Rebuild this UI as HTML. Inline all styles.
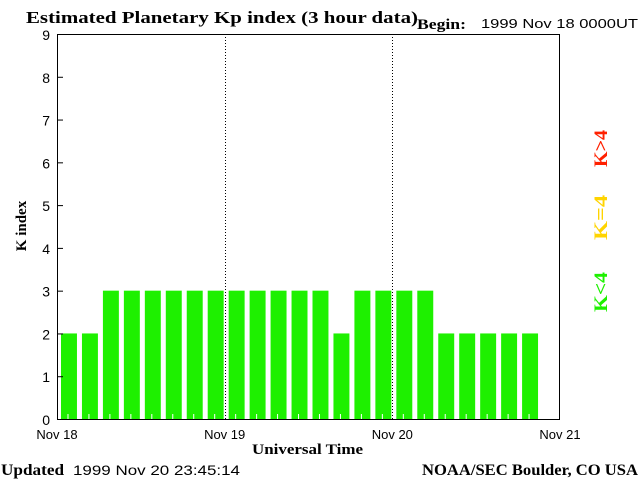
<!DOCTYPE html>
<html><head><meta charset="utf-8"><style>
html,body{margin:0;padding:0;background:#fff;width:640px;height:480px;overflow:hidden}
svg{display:block}
.serif{font-family:"Liberation Serif",serif;font-weight:bold}
.sans{font-family:"Liberation Sans",sans-serif}
</style></head><body>
<svg id="chart" width="640" height="480" xmlns="http://www.w3.org/2000/svg">
<text x="26" y="23" class="serif" font-size="17" textLength="392" lengthAdjust="spacingAndGlyphs">Estimated Planetary Kp index (3 hour data)</text>
<text x="417" y="29" class="serif" font-size="15" textLength="49" lengthAdjust="spacingAndGlyphs">Begin:</text>
<text x="481" y="28" class="sans" font-size="13" textLength="157" lengthAdjust="spacingAndGlyphs">1999 Nov 18 0000UT</text>
<g id="bars"></g>
<g id="axes"></g>
<text x="26" y="226" class="serif" font-size="15" text-anchor="middle" transform="rotate(-90 26 226)">K index</text>
<text x="252" y="454" class="serif" font-size="15" textLength="111" lengthAdjust="spacingAndGlyphs">Universal Time</text>
<text x="1" y="475" class="serif" font-size="16" textLength="63" lengthAdjust="spacingAndGlyphs">Updated</text>
<text x="73" y="475" class="sans" font-size="14" textLength="167" lengthAdjust="spacingAndGlyphs">1999 Nov 20 23:45:14</text>
<text x="422" y="475" class="serif" font-size="16" textLength="216" lengthAdjust="spacingAndGlyphs">NOAA/SEC Boulder, CO USA</text>
<text x="607" y="312" class="serif" font-size="19" fill="#1ef000" textLength="40" lengthAdjust="spacingAndGlyphs" transform="rotate(-90 607 312)">K&lt;4</text>
<text x="607" y="240" class="serif" font-size="19" fill="#ffd400" textLength="45" lengthAdjust="spacingAndGlyphs" transform="rotate(-90 607 240)">K=4</text>
<text x="607" y="167" class="serif" font-size="19" fill="#ff2000" textLength="37" lengthAdjust="spacingAndGlyphs" transform="rotate(-90 607 167)">K&gt;4</text>
</svg>
<script>
const kpValues = [2,2,3,3,3,3,3,3, 3,3,3,3,3,2,3,3, 3,3,2,2,2,2,2];
const yTicks = [0,1,2,3,4,5,6,7,8,9];
const dayLabels = ["Nov 18","Nov 19","Nov 20","Nov 21"];
const L=57,R=560,T=34,B=419;
const slots=24;
const NS="http://www.w3.org/2000/svg";
function xs(i){return L+i*(R-L)/slots;}
function ys(v){return B-v*(B-T)/9;}
function mk(tag,attrs,parent){const e=document.createElementNS(NS,tag);for(const k in attrs)e.setAttribute(k,attrs[k]);parent.appendChild(e);return e;}
const bars=document.getElementById('bars'), axes=document.getElementById('axes');
const sw=(R-L)/slots;
kpValues.forEach((v,i)=>{
  const c=v<4?"#1ef000":(v==4?"#ffd400":"#ff2000");
  const r=mk('rect',{x:xs(i)+4,y:ys(v),width:sw-5,height:B-ys(v),fill:c},bars);
  
  
  const t=mk('line',{x1:xs(i)+sw/2+0.5,x2:xs(i)+sw/2+0.5,y1:B-5,y2:B,stroke:"#fff"},bars);
  
  
});
const frame=mk('rect',{x:L+0.5,y:T+0.5,width:R-L-1,height:B-T,fill:"none",stroke:"#000"},axes);


yTicks.forEach(v=>{
  const y=ys(v);
  if(v>0&&v<9){const l=mk('line',{x1:L,x2:L+6,y1:y+0.5,y2:y+0.5,stroke:"#000"},axes);
  
  }
  const t=mk('text',{x:L-7,y:y+6,"text-anchor":"end","font-size":"14","font-family":"Liberation Sans, sans-serif"},axes);
  t.textContent=v;
  
  
});
dayLabels.forEach((d,i)=>{
  const x=xs(i*8);
  if(i>0&&i<3){const l=mk('line',{x1:Math.round(x)+0.5,x2:Math.round(x)+0.5,y1:T,y2:B,stroke:"#000","stroke-dasharray":"1,2"},axes);
  
  }
  const t=mk('text',{x:x,y:B+20,"text-anchor":"middle","font-size":"13","font-family":"Liberation Sans, sans-serif"},axes);
  t.textContent=d;
  
  
});
</script>
</body></html>
